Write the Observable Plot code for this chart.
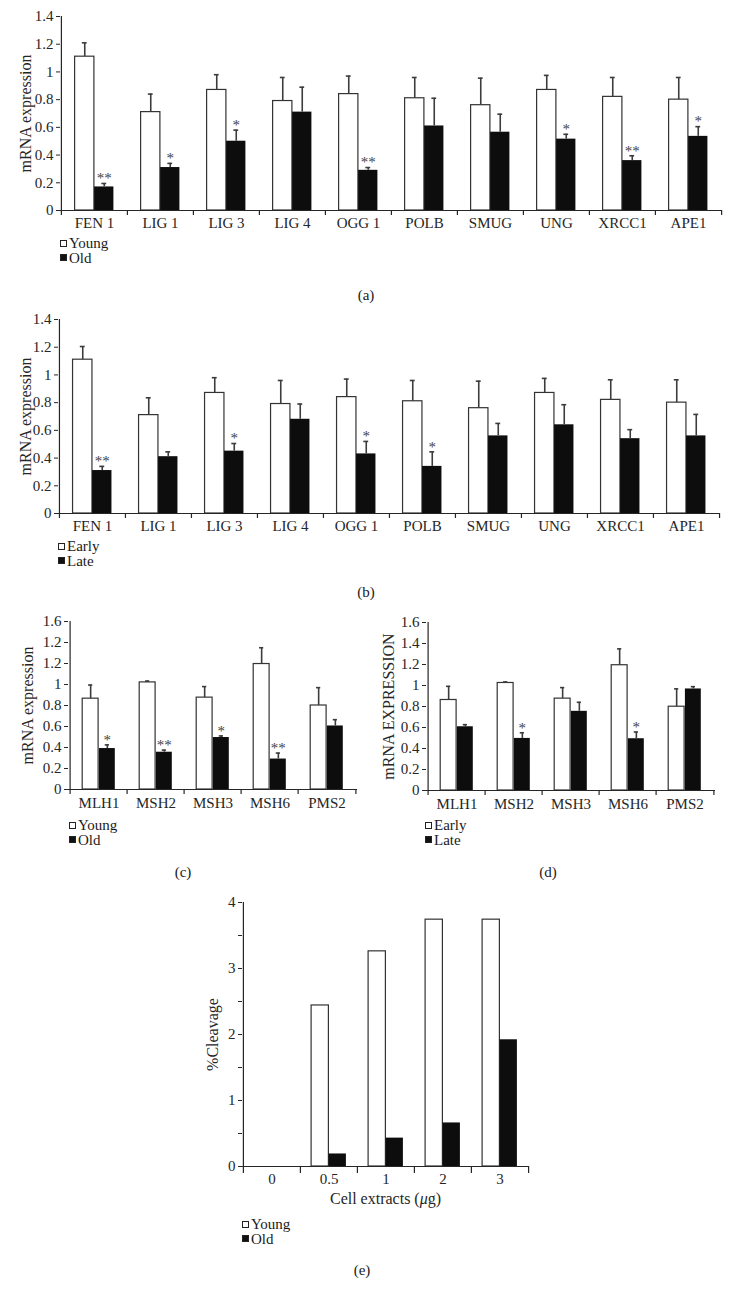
<!DOCTYPE html>
<html><head><meta charset="utf-8">
<script src="https://cdn.jsdelivr.net/npm/d3@7"></script>
<script src="https://cdn.jsdelivr.net/npm/@observablehq/plot@0.6"></script>
<style>
body{margin:0;background:#fff;}
#root{position:relative;width:732px;height:1302px;overflow:hidden;background:#fff;font-family:"Liberation Serif",serif;color:#1a1a1a;}
.panel{position:absolute;}
.leg{position:absolute;font-size:15px;line-height:14.5px;}
.leg div{display:flex;align-items:center;height:14.5px;white-space:nowrap;}
.sq{width:5px;height:5px;border:1px solid #222;margin-right:2px;background:#fff;flex:none;}
.sq.f{background:#111;}
.cap{position:absolute;font-size:15px;transform:translate(-50%,-50%);white-space:nowrap;}
</style></head><body><div id="root"></div>
<script>
// ---------- data ----------
const berGenes = ["FEN 1","LIG 1","LIG 3","LIG 4","OGG 1","POLB","SMUG","UNG","XRCC1","APE1"];
const aYoung    = [1.11, 0.71, 0.87, 0.79, 0.84, 0.81, 0.76, 0.87, 0.82, 0.80];
const aYoungErr = [0.10, 0.13, 0.11, 0.17, 0.13, 0.15, 0.195, 0.105, 0.14, 0.16];
const aOld      = [0.17, 0.31, 0.50, 0.71, 0.29, 0.61, 0.565, 0.515, 0.36, 0.535];
const aOldErr   = [0.025, 0.03, 0.08, 0.18, 0.02, 0.20, 0.13, 0.035, 0.035, 0.07];
const aStars    = ["**","*","*","","**","","","*","**","*"];

const bEarly    = [1.11, 0.71, 0.87, 0.79, 0.84, 0.81, 0.76, 0.87, 0.82, 0.80];
const bEarlyErr = [0.095, 0.125, 0.11, 0.17, 0.13, 0.15, 0.195, 0.105, 0.145, 0.165];
const bLate     = [0.31, 0.41, 0.45, 0.68, 0.43, 0.34, 0.56, 0.64, 0.54, 0.56];
const bLateErr  = [0.03, 0.035, 0.055, 0.11, 0.09, 0.105, 0.09, 0.145, 0.065, 0.155];
const bStars    = ["**","","*","","*","*","","","",""];

const mmrGenes  = ["MLH1","MSH2","MSH3","MSH6","PMS2"];
const cYoung    = [0.865, 1.02, 0.875, 1.195, 0.80];
const cYoungErr = [0.13, 0.013, 0.105, 0.155, 0.17];
const cOld      = [0.39, 0.355, 0.495, 0.29, 0.605];
const cOldErr   = [0.035, 0.02, 0.015, 0.057, 0.06];
const cStars    = ["*","**","*","**",""];

const dEarly    = [0.862, 1.024, 0.875, 1.193, 0.798];
const dEarlyErr = [0.13, 0.01, 0.105, 0.156, 0.17];
const dLate     = [0.607, 0.496, 0.754, 0.493, 0.967];
const dLateErr  = [0.02, 0.054, 0.086, 0.064, 0.022];
const dStars    = ["","*","","*",""];

const doses     = ["0","0.5","1","2","3"];
const eYoung    = [0, 2.44, 3.26, 3.74, 3.74];
const eOld      = [0, 0.19, 0.43, 0.66, 1.92];

const ticks14   = [0, 0.2, 0.4, 0.6, 0.8, 1, 1.2, 1.4];
const labels14  = ["0","0.2","0.4","0.6","0.8","1","1.2","1.4"];
const ticks16   = [0, 0.2, 0.4, 0.6, 0.8, 1, 1.2, 1.4, 1.6];
const labelsC   = ["0","0.2","0.4","0.6","0.8","1","1.2","1.2","1.6"];
const labelsD   = ["0","0.2","0.4","0.6","0.8","1","1.2","1.4","1.6"];
const ticksE    = [0, 0.5, 1, 1.5, 2, 2.5, 3, 3.5, 4];
const labelsE   = ["0","","1","","2","","3","","4"];

// ---------- drawing ----------
const root = document.getElementById("root");
const ink = "#262626", errInk = "#3c3c3c";

function grouped(o) {
  const n = o.cats.length;
  const bw = (o.width - o.ml - o.mr) / n;
  const w = o.barW, cap = 2.5;
  const rows = o.cats.map((c, i) => ({
    c, a: o.s1[i], ae: o.e1 ? o.s1[i] + o.e1[i] : null,
    b: o.s2[i], be: o.e2 ? o.s2[i] + o.e2[i] : null,
    star: o.stars ? o.stars[i] : ""
  }));
  const marks = [
    Plot.barY(rows, {x: "c", y: "a", fill: "#fff", stroke: "#333", strokeWidth: 1.2, insetLeft: bw/2 - w, insetRight: bw/2}),
    Plot.barY(rows, {x: "c", y: "b", fill: "#0d0d0d", insetLeft: bw/2, insetRight: bw/2 - w})
  ];
  if (o.e1) {
    marks.push(
      Plot.ruleX(rows, {x: "c", y1: "a", y2: "ae", dx: -w/2, stroke: errInk, strokeWidth: 1.6}),
      Plot.tickY(rows, {x: "c", y: "ae", insetLeft: bw/2 - w/2 - cap, insetRight: bw/2 + w/2 - cap, stroke: errInk, strokeWidth: 1.6}),
      Plot.ruleX(rows, {x: "c", y1: "b", y2: "be", dx: w/2, stroke: errInk, strokeWidth: 1.6}),
      Plot.tickY(rows, {x: "c", y: "be", insetLeft: bw/2 + w/2 - cap, insetRight: bw/2 - w/2 - cap, stroke: errInk, strokeWidth: 1.6}),
      Plot.text(rows, {x: "c", y: "be", text: "star", dx: w/2, dy: -5, fontSize: 15, fill: "#444"})
    );
  }
  marks.push(
    Plot.ruleY([0], {stroke: ink, strokeWidth: 1.2}),
    Plot.ruleX([o.cats[0]], {y1: o.yDomain[0], y2: o.yDomain[1], dx: -bw/2, stroke: ink, strokeWidth: 1.2}),
    Plot.ruleX(o.cats, {y1: 0, y2: 0, dx: -bw/2, insetBottom: -o.xt, stroke: ink, strokeWidth: 1.2}),
    Plot.ruleX([o.cats[n-1]], {y1: 0, y2: 0, dx: bw/2, insetBottom: -o.xt, stroke: ink, strokeWidth: 1.2}),
    Plot.axisY({ticks: o.yTicks, tickFormat: d => o.yLabels[o.yTicks.indexOf(d)], tickSize: 4, tickPadding: 3, label: null, stroke: ink}),
    Plot.axisX({tickSize: 0, tickPadding: o.xpad, label: null}),
    Plot.text([o.ylabel], {frameAnchor: "left", textAnchor: "middle", rotate: -90, dx: o.ylDx, fontSize: 16, fill: ink})
  );
  if (o.xlabel) marks.push(Plot.text([o.xlabel], {frameAnchor: "bottom", dy: o.xlDy, fontSize: 16, fill: ink}));
  const svg = Plot.plot({
    width: o.width, height: o.height,
    marginLeft: o.ml, marginRight: o.mr, marginTop: o.mt, marginBottom: o.mb,
    style: {fontFamily: '"Liberation Serif", serif', fontSize: "15px", color: ink, background: "transparent", overflow: "visible"},
    x: {domain: o.cats, padding: 0, axis: null},
    y: {domain: o.yDomain, axis: null},
    marks
  });
  svg.classList.add("panel");
  svg.style.left = o.left + "px";
  svg.style.top = o.top + "px";
  root.appendChild(svg);
  // enlarge the axis tick labels (rendered with the small default size)
  svg.querySelectorAll("text").forEach(t => {
    if (parseFloat(getComputedStyle(t).fontSize) < 14) t.style.fontSize = "15px";
  });
  return svg;
}

function legend(left, top, names) {
  const d = document.createElement("div");
  d.className = "leg";
  d.style.left = left + "px"; d.style.top = top + "px";
  d.innerHTML = `<div><span class="sq"></span>${names[0]}</div><div><span class="sq f"></span>${names[1]}</div>`;
  root.appendChild(d);
}
function caption(x, y, t) {
  const d = document.createElement("div");
  d.className = "cap"; d.style.left = x + "px"; d.style.top = y + "px"; d.textContent = t;
  root.appendChild(d);
}

// (a)
grouped({cats: berGenes, s1: aYoung, e1: aYoungErr, s2: aOld, e2: aOldErr, stars: aStars,
  yDomain: [0, 1.4], yTicks: ticks14, yLabels: labels14, ylabel: "mRNA expression", ylDx: -35,
  width: 732, height: 236, ml: 60, mr: 10, mt: 16, mb: 26, barW: 19.5, xt: 5, xpad: 7, left: 0, top: 0});
legend(60, 236, ["Young", "Old"]);
caption(366, 295, "(a)");

// (b)
grouped({cats: berGenes, s1: bEarly, e1: bEarlyErr, s2: bLate, e2: bLateErr, stars: bStars,
  yDomain: [0, 1.4], yTicks: ticks14, yLabels: labels14, ylabel: "mRNA expression", ylDx: -33,
  width: 732, height: 236, ml: 58, mr: 13, mt: 16, mb: 26, barW: 19.5, xt: 5, xpad: 7, left: 0, top: 303});
legend(58, 539, ["Early", "Late"]);
caption(366, 592, "(b)");

// (c)
grouped({cats: mmrGenes, s1: cYoung, e1: cYoungErr, s2: cOld, e2: cOldErr, stars: cStars,
  yDomain: [0, 1.6], yTicks: ticks16, yLabels: labelsC, ylabel: "mRNA expression", ylDx: -41,
  width: 365, height: 208, ml: 68, mr: 8, mt: 16, mb: 24, barW: 16.7, xt: 5, xpad: 8, left: 0, top: 605});
legend(69, 818, ["Young", "Old"]);
caption(183, 872, "(c)");

// (d)
grouped({cats: mmrGenes, s1: dEarly, e1: dEarlyErr, s2: dLate, e2: dLateErr, stars: dStars,
  yDomain: [0, 1.6], yTicks: ticks16, yLabels: labelsD, ylabel: "mRNA EXPRESSION", ylDx: -38,
  width: 364, height: 208, ml: 66, mr: 9, mt: 16, mb: 24, barW: 16.7, xt: 5, xpad: 8, left: 360, top: 606});
legend(425, 818, ["Early", "Late"]);
caption(548, 872, "(d)");

// (e)
const svgE = grouped({cats: doses, s1: eYoung, s2: eOld,
  yDomain: [0, 4], yTicks: ticksE, yLabels: labelsE, ylabel: "%Cleavage", ylDx: -30,
  xlabel: "Cell extracts (μg)", xlDy: 37,
  width: 360, height: 324, ml: 62, mr: 12, mt: 16, mb: 44, barW: 17.5, xt: 7, xpad: 7, left: 180, top: 886});
svgE.querySelectorAll("text").forEach(t => {
  if (t.textContent === "Cell extracts (μg)") {
    t.innerHTML = 'Cell extracts (<tspan font-style="italic">μ</tspan>g)';
  }
});
legend(242, 1217, ["Young", "Old"]);
caption(362, 1270, "(e)");
</script>
</body></html>
